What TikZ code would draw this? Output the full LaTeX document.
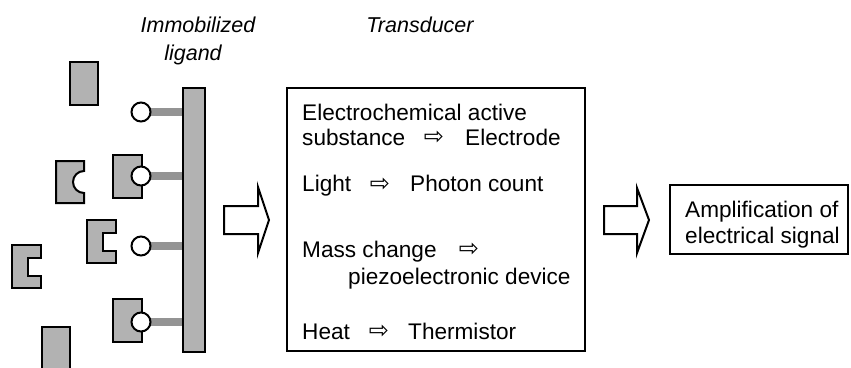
\documentclass[tikz,border=0pt]{standalone}
\usepackage{fontspec}
\setmainfont{Liberation Sans}
\newfontfamily\arrowfont{DejaVu Sans}
\usetikzlibrary{backgrounds}
\begin{document}
\begin{tikzpicture}[x=1pt,y=-1pt,
  shp/.style={draw=black,line width=2pt,fill=black!30,line join=miter},
  lig/.style={circle,draw=black,line width=2pt,fill=white,minimum size=19pt,inner sep=0pt},
  stick/.style={line width=8pt,draw=black!42},
  frame/.style={draw=black,line width=2pt,inner sep=0pt,fill=white},
  txt/.style={font=\fontsize{22.6}{26}\selectfont,inner sep=0pt,anchor=base west},
  itl/.style={font=\fontsize{21.5}{26}\selectfont\itshape,inner sep=0pt,anchor=base},
  sarr/.style={font=\fontsize{24}{24}\arrowfont,inner sep=0pt},
  blockarrow/.style={draw=black,line width=2pt,fill=white,line join=miter}
]
\useasboundingbox (0,0) rectangle (851,367);
\clip (0,0) rectangle (851,367);

% labels
\node[itl] (limm) at (198,32) {Immobilized};
\node[itl] (llig) at (193,60) {ligand};
\node[itl] (ltra) at (420,32) {Transducer};

% free analytes / receptors
\path[shp] (70,62) rectangle (98,105);
\path[shp] (42,327) rectangle (70,390);
\path[shp] (56,161) -- (84,161) -- (84,171) arc[start angle=270,end angle=90,radius=11] -- (84,203) -- (56,203) -- cycle;
\path[shp] (87,220) -- (116,220) -- (116,233) -- (103,233) -- (103,251) -- (116,251) -- (116,263) -- (87,263) -- cycle;
\path[shp] (12,245) -- (41,245) -- (41,258) -- (28,258) -- (28,276) -- (41,276) -- (41,288) -- (12,288) -- cycle;

% bound receptors
\path[shp] (113,155) rectangle (142,198);
\path[shp] (113,299) rectangle (142,342);

% support bar
\node[shp,rectangle,minimum width=22pt,minimum height=264pt,inner sep=0pt] (bar) at (194,219.5) {};

% immobilized ligands
\node[lig] (c1) at (141,112) {};
\node[lig] (c2) at (141,176) {};
\node[lig] (c3) at (141,246) {};
\node[lig] (c4) at (141,322) {};

\begin{scope}[on background layer]
  \foreach \c in {c1,c2,c3,c4}
    \draw[stick] (\c.center) -- (\c.center -| bar.west);
\end{scope}

% block arrows
\path[blockarrow] (224,206) -- (258,206) -- (258,187) -- (269,220) -- (258,253) -- (258,234) -- (224,234) -- cycle;
\path[blockarrow] (604,206) -- (637,206) -- (637,188) -- (649,220) -- (637,253) -- (637,234) -- (604,234) -- cycle;

% transducer box
\node[frame,minimum width=298pt,minimum height=263pt] (tbox) at (436,219.5) {};
\node[txt] (t1) at (302,120.5) {Electrochemical active};
\node[txt] (t2a) at (302,145) {substance};
\node[sarr] (t2b) at (434,138) {⇨};
\node[txt] (t2c) at (465,145) {Electrode};
\node[txt] (t3a) at (302,191.5) {Light};
\node[sarr] (t3b) at (380,184.5) {⇨};
\node[txt] (t3c) at (410,191.5) {Photon count};
\node[txt] (t4a) at (302,257) {Mass change};
\node[sarr] (t4b) at (469,250) {⇨};
\node[txt] (t5) at (348,284) {piezoelectronic device};
\node[txt] (t6a) at (302,339) {Heat};
\node[sarr] (t6b) at (379,332) {⇨};
\node[txt] (t6c) at (408,339) {Thermistor};

% amplification box
\node[frame,minimum width=178pt,minimum height=69pt] (abox) at (759,219.5) {};
\node[txt] (a1) at (685,217) {Amplification of};
\node[txt] (a2) at (685,243) {electrical signal};
\end{tikzpicture}
\end{document}
